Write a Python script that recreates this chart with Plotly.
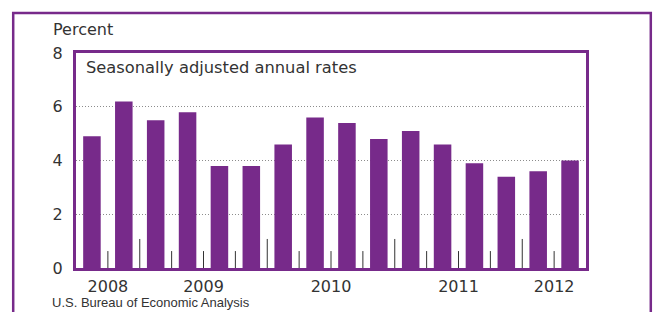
import plotly.graph_objects as go

# ---- data ----
quarters = ["2008 Q3", "2008 Q4",
            "2009 Q1", "2009 Q2", "2009 Q3", "2009 Q4",
            "2010 Q1", "2010 Q2", "2010 Q3", "2010 Q4",
            "2011 Q1", "2011 Q2", "2011 Q3", "2011 Q4",
            "2012 Q1", "2012 Q2"]
values = [4.9, 6.2, 5.5, 5.8, 3.8, 3.8, 4.6, 5.6, 5.4, 4.8, 5.1, 4.6, 3.9, 3.4, 3.6, 4.0]
y_ticks = [0, 2, 4, 6, 8]
y_label = "Percent"
note = "Seasonally adjusted annual rates"
source = "U.S. Bureau of Economic Analysis"

PURPLE = "#772A8A"
TXT = "#333333"
FONT = "DejaVu Sans"

W, H = 653, 312
# plot area in screen pixels: x 76..586, y 53..268
L, T = 76, 53
PW, PH = 510, 215
R, B = W - L - PW, H - T - PH

def px(x):
    return (x - L) / PW

def py(y):
    return (T + PH - y) / PH

xs = list(range(len(quarters)))
years = [q.split()[0] for q in quarters]
year_names = []
year_pos = []
for yr in dict.fromkeys(years):
    idx = [i for i, v in enumerate(years) if v == yr]
    year_names.append(yr)
    year_pos.append(sum(idx) / len(idx))

# separator ticks between bars (taller at year boundaries)
tx, ty = [], []
for i in range(len(quarters) - 1):
    h = 1.08 if years[i] != years[i + 1] else 0.63
    tx += [i + 0.5, i + 0.5, None]
    ty += [0, h, None]

fig = go.Figure()
fig.add_trace(go.Bar(x=xs, y=values, width=0.55, marker=dict(color=PURPLE, line=dict(width=0)),
                     hoverinfo="skip"))
fig.add_trace(go.Scatter(x=tx, y=ty, mode="lines", line=dict(color="#333333", width=1),
                         hoverinfo="skip"))

fig.update_layout(
    width=W, height=H,
    margin=dict(l=L, r=R, t=T, b=B, pad=0),
    paper_bgcolor="white", plot_bgcolor="white",
    showlegend=False,
    font=dict(family=FONT, size=16, color=TXT),
    xaxis=dict(range=[-0.5, len(quarters) - 0.5], tickmode="array", tickvals=year_pos,
               ticktext=year_names, showgrid=False, zeroline=False,
               showline=True, mirror=True, linewidth=3, linecolor=PURPLE,
               ticks="", tickfont=dict(family=FONT, size=16, color=TXT),
               ticklabelstandoff=2),
    yaxis=dict(range=[0, 8], tickmode="array", tickvals=y_ticks, showgrid=True,
               gridcolor="#8c8c8c", gridwidth=1, griddash="1px,2px", zeroline=False,
               showline=True, mirror=True, linewidth=3, linecolor=PURPLE,
               ticks="", tickfont=dict(family=FONT, size=16, color=TXT),
               ticklabelstandoff=7),
    shapes=[dict(type="rect", xref="paper", yref="paper",
                 x0=px(13.2), x1=px(650.8), y0=py(340), y1=py(13),
                 line=dict(color=PURPLE, width=2.5), fillcolor="rgba(0,0,0,0)", layer="above")],
    annotations=[
        dict(text=y_label, xref="paper", yref="paper", x=px(51), y=py(30),
             xanchor="left", yanchor="middle", showarrow=False,
             font=dict(family=FONT, size=16, color=TXT)),
        dict(text=note, xref="paper", yref="paper", x=px(84), y=py(67),
             xanchor="left", yanchor="middle", showarrow=False,
             font=dict(family=FONT, size=16.3, color=TXT)),
        dict(text=source, xref="paper", yref="paper", x=px(50), y=py(302),
             xanchor="left", yanchor="middle", showarrow=False,
             font=dict(family="Liberation Sans", size=13, color=TXT)),
    ],
)

fig.write_html("out.html", config={"displayModeBar": False},
               post_script="document.body.style.margin='0';document.body.style.overflow='hidden';")
